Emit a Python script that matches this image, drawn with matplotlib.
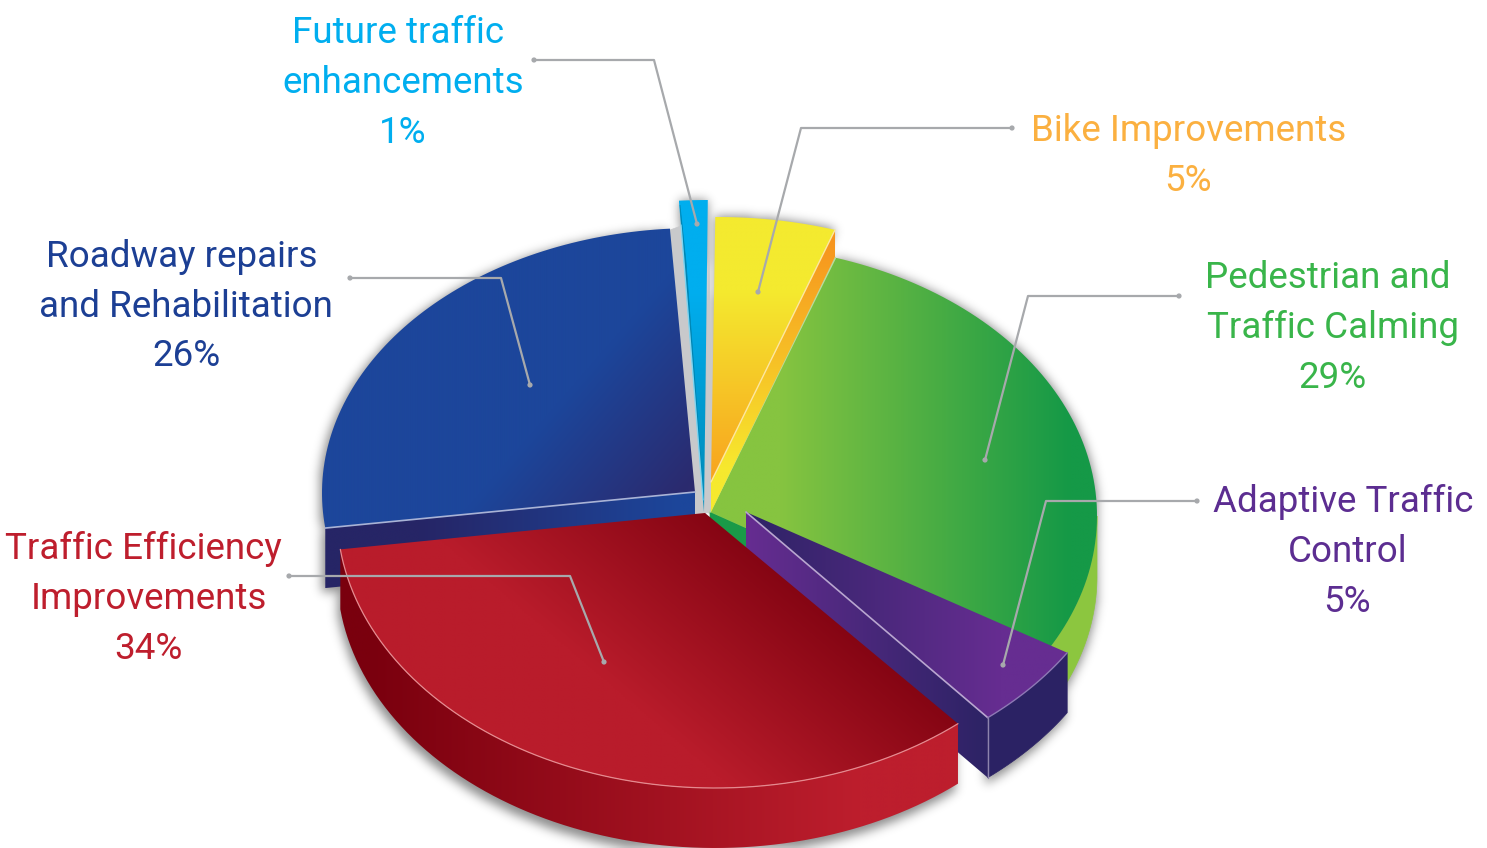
import numpy as np
import matplotlib
matplotlib.use("Agg")
import matplotlib.pyplot as plt
from matplotlib.colors import to_rgb
from matplotlib.patches import Polygon, Circle
from matplotlib.path import Path

# data
categories = ["Future traffic enhancements", "Bike Improvements", "Pedestrian and Traffic Calming",
              "Adaptive Traffic Control", "Traffic Efficiency Improvements", "Roadway repairs and Rehabilitation"]
values = [1, 5, 29, 5, 34, 26]
label_lines = [["Future traffic", "enhancements"], ["Bike Improvements"], ["Pedestrian and", "Traffic Calming"],
               ["Adaptive Traffic", "Control"], ["Traffic Efficiency", "Improvements"],
               ["Roadway repairs", "and Rehabilitation"]]
label_colors = ["#00aeef", "#fbb040", "#39b54a", "#5c2d91", "#be1e2d", "#1c3f94"]

# layout, in pixels of the target picture
label_x = [[398, 403, 403], [1189, 1188], [1328, 1333, 1332], [1343, 1348, 1347], [143, 149, 148], [182, 186, 186]]
label_y = [[33, 83, 133], [131, 181], [278, 328, 378], [502, 552, 602], [549, 599, 649], [257, 307, 356]]
leaders = [[(534, 60), (654, 60), (697, 224)], [(1012, 128), (801, 128), (758, 292)],
           [(1179, 296), (1028, 296), (985, 460)], [(1197, 501), (1046, 501), (1003, 665)],
           [(289, 576), (570, 576), (604, 662)], [(350, 278), (501, 278), (530, 385)]]
ellipses = [(711, 475, 460, 275), (718, 492, 387, 275), (722, 516, 375, 271),
            (739, 507, 387, 275), (715, 513, 378, 275), (696, 493, 374, 265)]
apexes = [(704, 512), (711, 482), (710, 512), (746, 512), (705, 513), (695, 492)]
START = 94
DEPTH = 60

edges = START - np.concatenate([[0], np.cumsum(values)]) * 360 / sum(values)
plt.rcParams["font.family"] = ["Roboto", "DejaVu Sans"]

fig = plt.figure(figsize=(14.87, 8.48), dpi=100)
ax = fig.add_axes([0, 0, 1, 1])
ax.axis("off")
z = [1]


def arc(i, t0=None, t1=None):
    cx, cy, rx, ry = ellipses[i]
    th = np.radians(np.linspace(edges[i] if t0 is None else t0, edges[i + 1] if t1 is None else t1, 80))
    return np.column_stack([cx + rx * np.cos(th), cy - ry * np.sin(th)])


def face(i):
    return np.vstack([[apexes[i]], arc(i)])


def shifted(p, d=DEPTH):
    return np.asarray(p, float) + [0, d]


def wall(p):
    p = np.asarray(p, float)
    return np.vstack([p, shifted(p)[::-1]])


def grad(verts, c0, c1, p0, p1):
    verts = np.asarray(verts, float)
    xmin, ymin = verts.min(axis=0)
    xmax, ymax = verts.max(axis=0)
    xx, yy = np.meshgrid(np.linspace(xmin, xmax, 300), np.linspace(ymin, ymax, 300))
    d = np.array(p1, float) - p0
    t = np.clip(((xx - p0[0]) * d[0] + (yy - p0[1]) * d[1]) / (d @ d), 0, 1)[..., None]
    img = np.array(to_rgb(c0)) * (1 - t) + np.array(to_rgb(c1)) * t
    z[0] += 1
    im = ax.imshow(img, extent=(xmin, xmax, ymax, ymin), aspect="auto", zorder=z[0], interpolation="bilinear")
    im.set_clip_path(Polygon(verts, transform=ax.transData))


def flat(verts, color):
    z[0] += 1
    ax.add_patch(Polygon(verts, closed=True, fc=color, ec=color, lw=0.5, zorder=z[0]))


def edge(p, color, lw=1.2):
    p = np.asarray(p, float)
    z[0] += 1
    ax.plot(p[:, 0], p[:, 1], color=color, lw=lw, zorder=z[0], solid_capstyle="round")


def soft_shadow(polys, sigma=5, alpha=0.45):
    xx, yy = np.meshgrid(np.arange(0, 1487, 2) + 1, np.arange(0, 848, 2) + 1)
    pts = np.column_stack([xx.ravel(), yy.ravel()])
    mask = np.zeros(xx.size, bool)
    for verts in polys:
        mask |= Path(np.asarray(verts, float)).contains_points(pts)
    mask = mask.reshape(xx.shape).astype(float)
    k = np.exp(-0.5 * (np.arange(-15, 16) / (sigma / 2)) ** 2)
    k /= k.sum()
    mask = np.apply_along_axis(lambda r: np.convolve(r, k, mode="same"), 0, mask)
    mask = np.apply_along_axis(lambda r: np.convolve(r, k, mode="same"), 1, mask)
    rgba = np.zeros(mask.shape + (4,))
    rgba[..., 3] = mask * alpha
    ax.imshow(rgba, extent=(0, 1487, 848, 0), aspect="auto", zorder=1, interpolation="bilinear")


green_wall = wall(arc(2, 0, edges[3]))

# soft shadows under the slices
soft_shadow([face(5) + (-3, 2), wall([arc(5)[0], apexes[5]]) + (-3, 4), green_wall + (2, 3), face(2) + (2, 0),
             wall(arc(3)) + (-2, 7), wall(arc(4)) + (-2, 7), face(0) + (0, -1), face(1) + (1, -1)])

# gaps next to the small slices
flat([(670, 230), (681, 226), (706, 514), (695, 514)], "#c8c9cb")
flat([(704, 512), (709, 258), (713, 514)], "#c8c9cb")

# future traffic
grad(face(0), "#00aeef", "#0090c0", (0, 290), (0, 470))
flat([(680, 205), (686, 262), (703, 490)], "#0086b3")
edge([(681, 225), (703, 500)], "#7fd4f0", 1)

# blue
blue_arc = arc(5)
grad(wall([blue_arc[0], apexes[5]]), "#262566", "#1c469b", (420, 0), (680, 0))
grad(face(5), "#2b2a6e", "#1c469b", (690, 485), (575, 385))
edge([blue_arc[0], apexes[5]], "#a9b3d6", 1.2)

# green
flat(wall([apexes[2], arc(2)[-1]]), "#1a9a48")
flat(green_wall, "#8cc63f")
grad(face(2), "#86c440", "#159947", (780, 0), (1070, 0))
edge([apexes[2], arc(2)[0]], "#b7dca0", 1.2)

# bike
bike_arc = arc(1)
grad(np.vstack([shifted(bike_arc[-1], 27), shifted(apexes[1], 30), apexes[1], bike_arc[-1]]),
     "#f7941e", "#f6e92e", (0, 240), (0, 470))
grad(face(1), "#f4ea2f", "#f8a51f", (0, 290), (0, 475))
edge([apexes[1], bike_arc[-1]], "#fde7a0", 1)

# purple
purple_arc = arc(3)
flat(wall(purple_arc), "#2b2264")
grad(wall([apexes[3], purple_arc[-1]]), "#662d91", "#2e2366", (746, 0), (980, 0))
grad(face(3), "#2e2366", "#662d91", (750, 0), (1000, 0))
edge([apexes[3], purple_arc[-1]], "#b9a6d0", 1.2)
edge(purple_arc, "#8e78b5", 1)
edge([purple_arc[-1], shifted(purple_arc[-1])], "#8d83ad", 1)

# red
red_arc = arc(4)
grad(wall(red_arc), "#bd1e2d", "#7a000e", (860, 0), (370, 0))
grad(face(4), "#7a000e", "#b91c2b", (830, 560), (677, 740))
edge(red_arc, "#e58a8f", 0.9)

# leader lines
for path in leaders:
    p = np.array(path)
    z[0] += 1
    ax.plot(p[:, 0], p[:, 1], color="#a7a9ac", lw=1.6, zorder=z[0])
    for q in (p[0], p[-1]):
        ax.add_patch(Circle(q, 2.6, fc="#a7a9ac", ec="none", zorder=z[0]))

# labels
for lines, xs, ys, c, v in zip(label_lines, label_x, label_y, label_colors, values):
    for s, x, y in zip(lines + [f"{v}%"], xs, ys):
        ax.text(x, y, s, color=c, fontsize=26.5, ha="center", va="center", zorder=100)

ax.set_xlim(0, 1487)
ax.set_ylim(848, 0)
fig.savefig("out.png", dpi=100)
